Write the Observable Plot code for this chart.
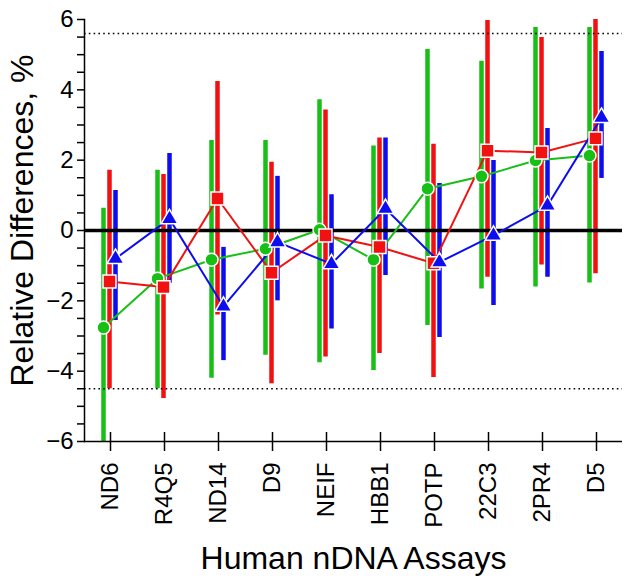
<!DOCTYPE html>
<html>
<head>
<meta charset="utf-8">
<script src="https://cdn.jsdelivr.net/npm/d3@7"></script>
<script src="https://cdn.jsdelivr.net/npm/@observablehq/plot@0.6"></script>
<style>
  html, body { margin: 0; padding: 0; background: #fff; }
  #chart svg { display: block; }
</style>
</head>
<body>
<div id="chart"></div>
<script>
const categories = ["ND6","R4Q5","ND14","D9","NEIF","HBB1","POTP","22C3","2PR4","D5"];

const greenMean = [-2.76, -1.37, -0.83, -0.52, 0.02, -0.83, 1.19, 1.54, 1.99, 2.13];
const greenLow  = [-6.3, -4.5, -4.2, -3.55, -3.76, -3.98, -2.7, -1.66, -1.61, -1.49];
const greenHigh = [0.63, 1.71, 2.56, 2.56, 3.72, 2.4, 5.15, 4.81, 5.77, 5.77];

const redMean = [-1.45, -1.61, 0.91, -1.2, -0.14, -0.47, -0.93, 2.27, 2.22, 2.62];
const redLow  = [-4.5, -4.78, -2.4, -4.36, -3.6, -3.5, -4.18, -1.33, -0.98, -1.23];
const redHigh = [1.71, 1.59, 4.24, 1.94, 3.43, 2.63, 2.45, 5.97, 5.49, 6.1];

const blueMean = [-0.8, 0.33, -2.16, -0.33, -0.95, 0.62, -0.9, -0.14, 0.71, 3.21];
const blueLow  = [-2.56, -1.5, -3.7, -2.0, -2.8, -1.28, -3.04, -2.13, -1.33, 1.48];
const blueHigh = [1.14, 2.19, -0.48, 1.54, 1.02, 2.63, 1.34, 1.99, 2.9, 5.09];

const limits = [5.6, -4.5];
const yMajor = [-6, -4, -2, 0, 2, 4, 6];
const yMinor = d3.range(-6, 6.01, 0.5).filter(v => v % 2 !== 0);

const xTitle = "Human nDNA Assays";
const yTitle = "Relative Differences, %";

const GREEN = "#17bf17", RED = "#f21111", BLUE = "#0d0df0";

function rows(mean, low, high) {
  return categories.map((c, i) => ({cat: c, mean: mean[i], low: low[i], high: high[i]}));
}
const series = [
  {rows: rows(greenMean, greenLow, greenHigh), color: GREEN, dx: -7, symbol: "circle", r: 6.5},
  {rows: rows(redMean, redLow, redHigh), color: RED, dx: -1, symbol: "square", r: 7.3},
  {rows: rows(blueMean, blueLow, blueHigh), color: BLUE, dx: 5, symbol: "triangle", r: 6.2}
];

const font = "'Liberation Sans', Arial, Helvetica, sans-serif";

const chart = Plot.plot({
  width: 632,
  height: 586,
  marginTop: 19,
  marginRight: 10,
  marginBottom: 145,
  marginLeft: 84,
  style: {fontFamily: font, background: "#fff", color: "#000"},
  x: {type: "point", domain: categories, padding: 0.41},
  y: {domain: [-6, 6]},
  marks: [
    // error bars
    ...series.map(s => Plot.ruleX(s.rows, {x: "cat", y1: "low", y2: "high", stroke: s.color, strokeWidth: 4.5, dx: s.dx, clip: true})),
    Plot.ruleY(limits, {stroke: "#000", strokeWidth: 1.6, strokeDasharray: "1.6,3.2"}),
    Plot.ruleY([0], {stroke: "#000", strokeWidth: 3.5}),
    // connecting lines
    ...series.map(s => Plot.line(s.rows, {x: "cat", y: "mean", stroke: s.color, strokeWidth: 2, dx: s.dx})),
    // markers
    ...series.map(s => Plot.dot(s.rows, {x: "cat", y: "mean", fill: s.color, stroke: "#fff", strokeWidth: 1.5, symbol: s.symbol, r: s.r, dx: s.dx})),
    // axes
    Plot.frame({anchor: "left", stroke: "#000", strokeWidth: 1.5}),
    Plot.ruleY([-6], {stroke: "#000", strokeWidth: 1.5}),
    Plot.axisY(yMajor, {tickSize: 7, tickPadding: 4, fontSize: 24, label: null, stroke: "#000", strokeWidth: 1.5}),
    Plot.axisY(yMinor, {tickSize: 7, tickFormat: () => "", label: null, stroke: "#000", strokeWidth: 1.5}),
    Plot.ruleX(categories, {x: d => d, y1: -6, y2: -6, insetTop: -9, insetBottom: -10, stroke: "#000", strokeWidth: 1.5}),
    Plot.axisX({tickSize: 0, tickRotate: -90, tickPadding: 21, fontSize: 24, label: null}),
    Plot.text([xTitle], {text: d => d, frameAnchor: "bottom", textAnchor: "middle", dy: 127, fontSize: 32, fill: "#000"}),
    Plot.text([yTitle], {text: d => d, frameAnchor: "left", textAnchor: "middle", dx: -62, dy: -10, rotate: -90, fontSize: 32, fill: "#000"})
  ]
});
document.getElementById("chart").appendChild(chart);
</script>
</body>
</html>
